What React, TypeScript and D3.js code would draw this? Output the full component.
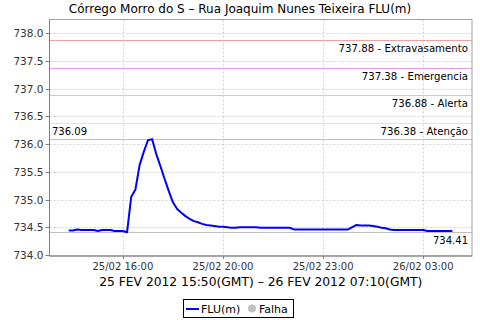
import React from "react";
import * as d3 from "d3";

const title = "Córrego Morro do S – Rua Joaquim Nunes Teixeira FLU(m)";
const xAxisLabel = "25 FEV 2012 15:50(GMT) – 26 FEV 2012 07:10(GMT)";

// minutes after 25 FEV 2012 15:50 GMT, one reading every 10 minutes
const stepMinutes = 10;
const levels = [
  734.44, 734.44, 734.46, 734.45, 734.45, 734.45, 734.45, 734.43, 734.45, 734.45,
  734.45, 734.43, 734.43, 734.43, 734.41, 735.05, 735.18, 735.62, 735.86, 736.07,
  736.09, 735.82, 735.6, 735.37, 735.15, 734.95, 734.83, 734.76, 734.7, 734.65,
  734.61, 734.59, 734.56, 734.54, 734.53, 734.52, 734.51, 734.51, 734.5, 734.49,
  734.49, 734.5, 734.5, 734.5, 734.5, 734.5, 734.49, 734.49, 734.49, 734.49,
  734.49, 734.49, 734.49, 734.49, 734.46, 734.46, 734.46, 734.46, 734.46, 734.46,
  734.46, 734.46, 734.46, 734.46, 734.46, 734.46, 734.46, 734.46, 734.5, 734.54,
  734.53, 734.53, 734.53, 734.52, 734.51, 734.49, 734.48, 734.46, 734.45, 734.45,
  734.45, 734.45, 734.45, 734.45, 734.45, 734.45, 734.43, 734.43, 734.43, 734.43,
  734.43, 734.43, 734.43,
];

const xTickMinutes = [130, 370, 610, 850];
const xTickLabels = ["25/02 16:00", "25/02 20:00", "25/02 23:00", "26/02 03:00"];
const yTicks = [734.0, 734.5, 735.0, 735.5, 736.0, 736.5, 737.0, 737.5, 738.0];

const thresholdValues = [737.88, 737.38, 736.88, 736.38];
const thresholdNames = ["Extravasamento", "Emergencia", "Alerta", "Atenção"];
const thresholdColors = ["#f3a09c", "#ec98ec", "#f7c28e", "#ffee58"];

const legendLabels = ["FLU(m)", "Falha"];

const W = 480;
const H = 320;
const plot = { left: 49.5, right: 472, top: 19.5, bottom: 256 };
const font = "'DejaVu Sans', sans-serif";

export default function App() {
  const x = d3.scaleLinear().domain([-46, 967]).range([plot.left, plot.right]);
  const y = d3.scaleLinear().domain([733.98, 738.25]).range([plot.bottom, plot.top]);

  const data = levels.map((v, i) => ({ t: i * stepMinutes, v }));
  const line = d3
    .line<{ t: number; v: number }>()
    .x((d) => x(d.t))
    .y((d) => y(d.v));

  const maxV = d3.max(levels) as number;
  const minV = d3.min(levels) as number;
  const py = (v: number) => Math.round(y(v)) + 0.5;

  return (
    <svg
      width={W}
      height={H}
      style={{ position: "absolute", left: 0, top: 0, background: "#fff" }}
      fontFamily={font}
    >
      <rect x={0} y={0} width={W} height={H} fill="#fff" />
      <text x={240} y={13} textAnchor="middle" fontSize={12} fill="#000">
        {title}
      </text>

      {/* grid */}
      {yTicks.map((t) => (
        <line
          key={"gy" + t}
          x1={plot.left}
          x2={plot.right}
          y1={py(t)}
          y2={py(t)}
          stroke="#d0d0d0"
          strokeDasharray="2,2"
        />
      ))}
      {xTickMinutes.map((t) => (
        <line
          key={"gx" + t}
          x1={Math.round(x(t)) + 0.5}
          x2={Math.round(x(t)) + 0.5}
          y1={plot.top}
          y2={plot.bottom}
          stroke="#d0d0d0"
          strokeDasharray="2,2"
        />
      ))}

      {/* thresholds */}
      {thresholdValues.map((v, i) => (
        <g key={"th" + v}>
          <line
            x1={plot.left}
            x2={plot.right}
            y1={py(v)}
            y2={py(v)}
            stroke={thresholdColors[i]}
            strokeWidth={1}
            shapeRendering="crispEdges"
          />
          <text x={468} y={y(v) + 12} textAnchor="end" fontSize={10.2} fill="#000">
            {v.toFixed(2) + " - " + thresholdNames[i]}
          </text>
        </g>
      ))}

      {/* max / min markers */}
      <line
        x1={plot.left}
        x2={plot.right}
        y1={py(maxV)}
        y2={py(maxV)}
        stroke="#c0c0c0"
        shapeRendering="crispEdges"
      />
      <text x={52} y={y(maxV) - 4} fontSize={10} fill="#000">
        {maxV.toFixed(2)}
      </text>
      <line
        x1={plot.left}
        x2={plot.right}
        y1={py(minV)}
        y2={py(minV)}
        stroke="#c0c0c0"
        shapeRendering="crispEdges"
      />
      <text x={468} y={y(minV) + 12} textAnchor="end" fontSize={10} fill="#000">
        {minV.toFixed(2)}
      </text>

      {/* series */}
      <path d={line(data) || ""} fill="none" stroke="#0000ff" strokeWidth={2} strokeLinejoin="round" />

      {/* plot border */}
      <rect
        x={plot.left}
        y={plot.top}
        width={plot.right - plot.left}
        height={plot.bottom - plot.top}
        fill="none"
        stroke="#a0a0a0"
      />
      <line x1={plot.left} x2={plot.left} y1={plot.top} y2={plot.bottom} stroke="#808080" />
      <line x1={plot.left} x2={plot.right} y1={plot.bottom} y2={plot.bottom} stroke="#808080" />

      {/* y axis */}
      {yTicks.map((t) => (
        <g key={"ty" + t}>
          <line x1={plot.left - 4} x2={plot.left} y1={py(t)} y2={py(t)} stroke="#808080" />
          <text x={plot.left - 6} y={y(t) + 4} textAnchor="end" fontSize={10.5} fill="#333">
            {t.toFixed(1)}
          </text>
        </g>
      ))}

      {/* x axis */}
      {xTickMinutes.map((t, i) => (
        <g key={"tx" + t}>
          <line
            x1={Math.round(x(t)) + 0.5}
            x2={Math.round(x(t)) + 0.5}
            y1={plot.bottom}
            y2={plot.bottom + 3}
            stroke="#808080"
          />
          <text x={x(t)} y={270} textAnchor="middle" fontSize={10} fill="#333">
            {xTickLabels[i]}
          </text>
        </g>
      ))}
      <text
        x={(plot.left + plot.right) / 2}
        y={286}
        textAnchor="middle"
        fontSize={12.3}
        fill="#000"
      >
        {xAxisLabel}
      </text>

      {/* legend */}
      <rect x={183.5} y={299.5} width={110} height={18} fill="#fff" stroke="#000" />
      <line x1={186} x2={199} y1={309} y2={309} stroke="#0000ff" strokeWidth={2} />
      <text x={201} y={313} fontSize={11} fill="#000">
        {legendLabels[0]}
      </text>
      <circle cx={252} cy={308.5} r={4} fill="#c0c0c0" />
      <text x={259} y={313} fontSize={11} fill="#000">
        {legendLabels[1]}
      </text>
    </svg>
  );
}
